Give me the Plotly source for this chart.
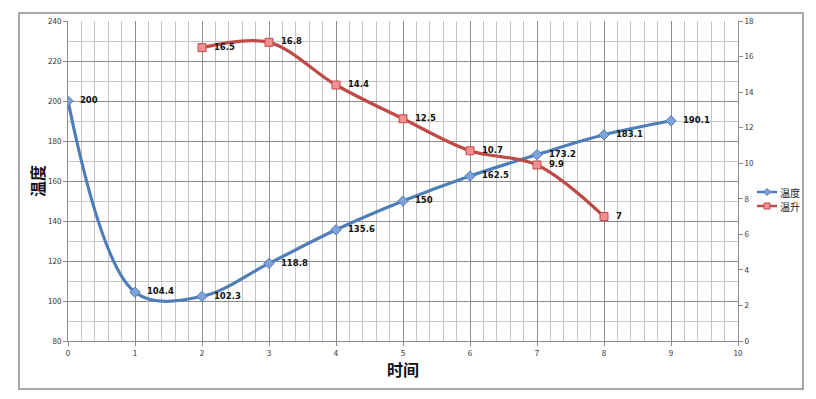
import plotly.graph_objects as go

time_x = [0, 1, 2, 3, 4, 5, 6, 7, 8, 9]
temp_vals = [200, 104.4, 102.3, 118.8, 135.6, 150, 162.5, 173.2, 183.1, 190.1]
rise_x = [2, 3, 4, 5, 6, 7, 8]
rise_vals = [16.5, 16.8, 14.4, 12.5, 10.7, 9.9, 7]
name_temp = "温度"
name_rise = "温升"
x_title = "时间"
y_title = "温度"

FONT = "Noto Sans CJK SC, DejaVu Sans, sans-serif"
BLUE, BLUE_FILL = "#4F7DB8", "#7FA3D9"
RED, RED_FILL = "#BE4B48", "#F09090"

fig = go.Figure()
fig.add_trace(go.Scatter(
    x=time_x, y=temp_vals, name=name_temp,
    mode="lines+markers+text",
    line=dict(color=BLUE, width=3.2, shape="spline", smoothing=1.0),
    marker=dict(symbol="diamond", size=8, color=BLUE_FILL, line=dict(color=BLUE, width=1)),
    text=[f"  {v:g}" for v in temp_vals], textposition="middle right",
    textfont=dict(size=8.5, color="#111", family="DejaVu Sans", weight="bold"),
))
fig.add_trace(go.Scatter(
    x=rise_x, y=rise_vals, name=name_rise, yaxis="y2",
    mode="lines+markers+text",
    line=dict(color=RED, width=3.2, shape="spline", smoothing=1.0),
    marker=dict(symbol="square", size=8, color=RED_FILL, line=dict(color=RED, width=1)),
    text=[f"  {v:g}" for v in rise_vals], textposition="middle right",
    textfont=dict(size=8.5, color="#111", family="DejaVu Sans", weight="bold"),
))

axis_common = dict(
    showline=True, linecolor="#8c8c8c", linewidth=1,
    ticks="outside", ticklen=4, tickcolor="#8c8c8c",
    tickfont=dict(size=8, color="#333"), zeroline=False, automargin=False,
)

PW, PH = 670.0, 320.0
def px(x):  # window pixel -> paper x
    return (x - 68) / PW
def py(y):  # window pixel -> paper y
    return (341 - y) / PH

shapes = [dict(type="rect", xref="paper", yref="paper",
               x0=px(19), x1=px(803), y0=py(389), y1=py(13),
               line=dict(color="#8c8c8c", width=1.5), fillcolor="rgba(0,0,0,0)",
               layer="below")]
annotations = [
    dict(text=f"<b>{x_title}</b>", xref="paper", yref="paper",
         x=px(403), y=py(369), xanchor="center", yanchor="middle", textangle=0,
         showarrow=False, font=dict(size=16, color="#111", family=FONT)),
    dict(text=f"<b>{y_title}</b>", xref="paper", yref="paper",
         x=px(37), y=py(181), xanchor="center", yanchor="middle",
         textangle=-90, showarrow=False, font=dict(size=16, color="#111", family=FONT)),
]

# manual legend
for i, (nm, col, fill, sym) in enumerate([(name_temp, BLUE, BLUE_FILL, "diamond"),
                                           (name_rise, RED, RED_FILL, "square")]):
    yy = 192 + 14 * i
    shapes.append(dict(type="line", xref="paper", yref="paper",
                       x0=px(757), x1=px(777), y0=py(yy), y1=py(yy),
                       line=dict(color=col, width=2.5)))
    cx, cy = 767, yy
    if sym == "diamond":
        path = (f"M {px(cx - 3.5)} {py(cy)} L {px(cx)} {py(cy - 3.5)} "
                f"L {px(cx + 3.5)} {py(cy)} L {px(cx)} {py(cy + 3.5)} Z")
        shapes.append(dict(type="path", xref="paper", yref="paper", path=path,
                           fillcolor=fill, line=dict(color=col, width=1)))
    else:
        shapes.append(dict(type="rect", xref="paper", yref="paper",
                           x0=px(cx - 3), x1=px(cx + 3), y0=py(cy + 3), y1=py(cy - 3),
                           fillcolor=fill, line=dict(color=col, width=1)))
    annotations.append(dict(text=nm, xref="paper", yref="paper",
                            x=px(778), y=py(yy), xanchor="left", yanchor="middle",
                            textangle=0, showarrow=False, width=26, align="left",
                            font=dict(size=10, color="#222", family="Noto Sans CJK SC")))

# page body has an 8px default margin, so the figure is shrunk by 8px and margins shifted
fig.update_layout(
    width=808, height=391,
    margin=dict(l=60, r=78, t=13, b=58),
    paper_bgcolor="white", plot_bgcolor="white",
    font=dict(family=FONT, size=8, color="#333"),
    showlegend=False,
    xaxis=dict(
        range=[0, 10], dtick=1, tick0=0,
        showgrid=True, gridcolor="#8c8c8c", gridwidth=1,
        minor=dict(dtick=0.2, showgrid=True, gridcolor="#c4c4c4", gridwidth=1),
        **axis_common,
    ),
    yaxis=dict(
        range=[80, 240], dtick=20, tick0=80,
        showgrid=True, gridcolor="#8c8c8c", gridwidth=1,
        minor=dict(dtick=10, showgrid=True, gridcolor="#c4c4c4", gridwidth=1),
        **axis_common,
    ),
    yaxis2=dict(
        range=[0, 18], dtick=2, tick0=0, overlaying="y", side="right",
        showgrid=False, **axis_common,
    ),
    annotations=annotations,
    shapes=shapes,
)

fig.write_html("out.html")
